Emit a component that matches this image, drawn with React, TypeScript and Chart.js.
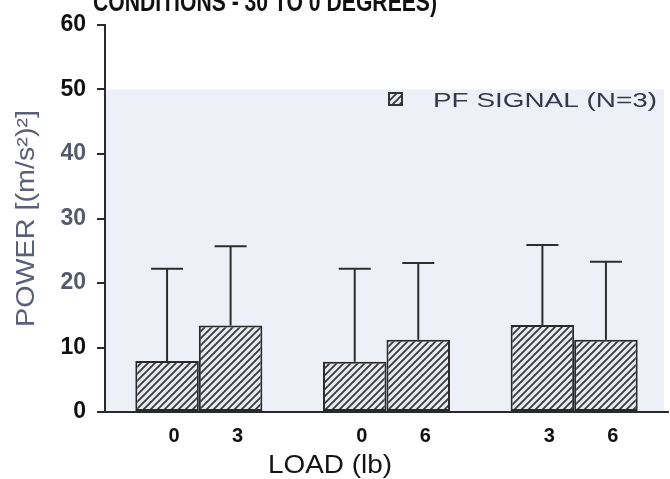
import React, { useEffect, useRef } from "react";
import { Chart, registerables } from "chart.js";
Chart.register(...registerables);

// ---- data ----
const groups = ["G1", "G2", "G3"];
const firstLoads = ["0", "0", "3"];
const secondLoads = ["3", "6", "6"];
const firstValues = [7.9, 7.8, 13.5];
const secondValues = [13.4, 11.2, 11.2];
const firstErrorTops = [22.2, 22.2, 25.9];
const secondErrorTops = [25.7, 23.1, 23.3];
const yMin = 0;
const yMax = 60;
const yStep = 10;
const shadeFrom = 50;
const legendText = "PF SIGNAL (N=3)";
const xTitle = "LOAD (lb)";
const yTitle = "POWER [(m/s\u00B2)\u00B2]";
const topTitle = "CONDITIONS - 30 TO 0 DEGREES)";

const loadLabels = [firstLoads, secondLoads];
const errorTops = [firstErrorTops, secondErrorTops];

function makeHatch(): CanvasPattern | string {
  const c = document.createElement("canvas");
  c.width = 7;
  c.height = 7;
  const g = c.getContext("2d");
  if (!g) return "#999";
  g.fillStyle = "#e7e9f1";
  g.fillRect(0, 0, 7, 7);
  g.strokeStyle = "#363636";
  g.lineWidth = 1.7;
  g.beginPath();
  g.moveTo(-1, 8);
  g.lineTo(8, -1);
  g.moveTo(-1, 1);
  g.lineTo(1, -1);
  g.moveTo(6, 8);
  g.lineTo(8, 6);
  g.stroke();
  return g.createPattern(c, "repeat") || "#999";
}

function drawFitted(
  ctx: CanvasRenderingContext2D,
  text: string,
  x: number,
  y: number,
  font: string,
  color: string,
  targetWidth: number,
  rotate = 0,
  align: CanvasTextAlign = "left",
  baseline: CanvasTextBaseline = "alphabetic"
) {
  ctx.save();
  ctx.font = font;
  const w = ctx.measureText(text).width || 1;
  const sx = targetWidth / w;
  ctx.translate(x, y);
  if (rotate) ctx.rotate(rotate);
  ctx.scale(sx, 1);
  ctx.fillStyle = color;
  ctx.textAlign = align;
  ctx.textBaseline = baseline;
  ctx.fillText(text, 0, 0);
  ctx.restore();
}

export default function App() {
  const ref = useRef<HTMLCanvasElement | null>(null);

  useEffect(() => {
    if (!ref.current) return;
    const hatch = makeHatch();

    const bgPlugin = {
      id: "bgShade",
      beforeDraw(chart: any) {
        const { ctx, chartArea, scales } = chart;
        ctx.save();
        ctx.fillStyle = "#ffffff";
        ctx.fillRect(0, 0, chart.width, chart.height);
        const yTop = scales.y.getPixelForValue(shadeFrom);
        ctx.fillStyle = "#eef0f8";
        ctx.fillRect(chartArea.left, yTop, chart.width - chartArea.left - 6, chartArea.bottom - yTop);
        ctx.restore();
      },
    };

    const errorPlugin = {
      id: "errorBars",
      afterDatasetsDraw(chart: any) {
        const { ctx, scales } = chart;
        ctx.save();
        ctx.strokeStyle = "#2e2e2e";
        ctx.lineWidth = 2;
        errorTops.forEach((tops, di) => {
          const meta = chart.getDatasetMeta(di);
          meta.data.forEach((bar: any, i: number) => {
            const top = scales.y.getPixelForValue(tops[i]);
            ctx.beginPath();
            ctx.moveTo(bar.x, bar.y);
            ctx.lineTo(bar.x, top);
            ctx.moveTo(bar.x - 16, top);
            ctx.lineTo(bar.x + 16, top);
            ctx.stroke();
          });
        });
        ctx.restore();
      },
    };

    const textPlugin = {
      id: "texts",
      afterDraw(chart: any) {
        const { ctx, chartArea } = chart;
        // per-bar load labels
        loadLabels.forEach((labels, di) => {
          const meta = chart.getDatasetMeta(di);
          meta.data.forEach((bar: any, i: number) => {
            ctx.save();
            ctx.font = "bold 20px 'Liberation Sans', Arial, sans-serif";
            ctx.fillStyle = "#111111";
            ctx.textAlign = "center";
            ctx.textBaseline = "alphabetic";
            ctx.fillText(labels[i], bar.x + 7, 442);
            ctx.restore();
          });
        });
        // x title
        drawFitted(ctx, xTitle, 268, 473, "25px 'Liberation Sans', Arial, sans-serif", "#151515", 124);
        // y title
        drawFitted(
          ctx,
          yTitle,
          27,
          (chartArea.top + chartArea.bottom) / 2,
          "25px 'Liberation Sans', Arial, sans-serif",
          "#5a6079",
          217,
          -Math.PI / 2,
          "center",
          "middle"
        );
        // top (clipped) title
        drawFitted(ctx, topTitle, 93, 11, "bold 27px 'Liberation Sans', Arial, sans-serif", "#111111", 344);
        // legend
        ctx.save();
        ctx.fillStyle = hatch as any;
        ctx.fillRect(389, 93, 13, 12);
        ctx.strokeStyle = "#333333";
        ctx.lineWidth = 2;
        ctx.strokeRect(389, 93, 13, 12);
        ctx.restore();
        drawFitted(ctx, legendText, 433, 107, "21px 'Liberation Sans', Arial, sans-serif", "#34384a", 224);
      },
    };

    const chart = new Chart(ref.current, {
      type: "bar",
      data: {
        labels: groups,
        datasets: [
          {
            label: legendText,
            data: firstValues,
            backgroundColor: hatch as any,
            borderColor: "#2a2a2a",
            borderWidth: 2,
            borderSkipped: false,
            categoryPercentage: 0.677,
            barPercentage: 1.0,
          },
          {
            label: legendText,
            data: secondValues,
            backgroundColor: hatch as any,
            borderColor: "#2a2a2a",
            borderWidth: 2,
            borderSkipped: false,
            categoryPercentage: 0.677,
            barPercentage: 1.0,
          },
        ],
      },
      options: {
        responsive: false,
        animation: false,
        devicePixelRatio: 1,
        layout: { padding: { left: 0, right: 2, top: 25, bottom: 0 } },
        plugins: {
          legend: { display: false },
          title: { display: false },
          tooltip: { enabled: false },
        },
        scales: {
          x: {
            type: "category",
            offset: true,
            ticks: { display: false },
            grid: { display: false },
            border: { display: true, color: "#2a2a2a", width: 2 },
            afterFit: (scale: any) => {
              scale.height = 67;
            },
          },
          y: {
            min: yMin,
            max: yMax,
            ticks: {
              stepSize: yStep,
              padding: 11,
              color: (c: any) => {
                const v = c.tick && c.tick.value;
                return v === 20 || v === 30 || v === 40 ? "#555a6e" : "#111111";
              },
              font: { family: "'Liberation Sans', Arial, sans-serif", size: 23, weight: "bold" },
            },
            grid: {
              drawOnChartArea: false,
              drawTicks: true,
              tickLength: 8,
              color: "#2a2a2a",
              lineWidth: 2,
            },
            border: { display: true, color: "#2a2a2a", width: 2 },
            afterFit: (scale: any) => {
              scale.width = 105;
            },
          },
        },
      },
      plugins: [bgPlugin, errorPlugin, textPlugin],
    });

    return () => chart.destroy();
  }, []);

  return (
    <div style={{ position: "absolute", left: 0, top: 0, width: 670, height: 479 }}>
      <canvas ref={ref} width={670} height={479} style={{ width: 670, height: 479 }} />
    </div>
  );
}
